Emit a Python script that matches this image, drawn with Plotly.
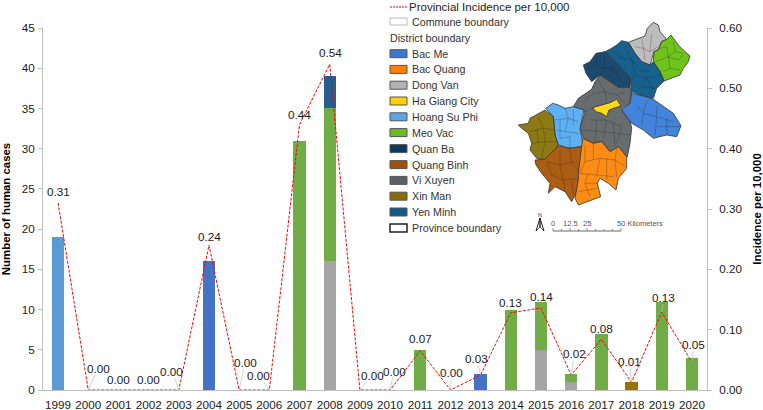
import plotly.graph_objects as go

W, H = 763, 410
years = [str(y) for y in range(1999, 2021)]
hoang_su_phi = [19,0,0,0,0,0,0,0,0,0,0,0,0,0,0,0,0,0,0,0,0,0]
bac_me =       [0,0,0,0,0,16,0,0,0,0,0,0,0,0,2,0,0,0,0,0,0,0]
dong_van =     [0,0,0,0,0,0,0,0,0,16,0,0,0,0,0,0,5,1,0,0,0,0]
meo_vac =      [0,0,0,0,0,0,0,0,31,19,0,0,5,0,0,10,6,1,7,0,11,4]
xin_man =      [0,0,0,0,0,0,0,0,0,0,0,0,0,0,0,0,0,0,0,1,0,0]
yen_minh =     [0,0,0,0,0,0,0,0,0,4,0,0,0,0,0,0,0,0,0,0,0,0]
incidence = [0.31,0,0,0,0,0.24,0,0,0.44,0.54,0,0,0.065,0,0.025,0.128,0.136,0.025,0.084,0.013,0.129,0.046]
incidence_labels = ["0.31","0.00","0.00","0.00","0.00","0.24","0.00","0.00","0.44","0.54","0.00","0.00",
                    "0.07","0.00","0.03","0.13","0.14","0.02","0.08","0.01","0.13","0.05"]
label_offsets = [(0,-11),(10,-22),(0,-11),(0,-11),(-7,-19),(0,-9),(6,-28),(-11,-15),(0,-10),(1,-12),(13,-15),(4,-19),
                 (0,-12),(1,-18),(-4,-16),(0,-10),(0,-11),(3,-21),(0,-11),(-2,-21),(2,-15),(2,-18)]
leader = [False,True,False,False,True,False,True,True,False,False,True,True,False,True,True,False,False,True,False,True,True,True]

legend_items = ["Bac Me","Bac Quang","Dong Van","Ha Giang City","Hoang Su Phi","Meo Vac","Quan Ba","Quang Binh","Vi Xuyen","Xin Man","Yen Minh"]
legend_colors = ["#3d78d0","#ff8000","#b2b2b2","#ffd200","#5aa5e8","#6cbf1a","#0f3a5f","#a84e00","#5a6166","#8a6d00","#0f5a8c"]
map_colors = ["#4283dc","#fc8c15","#bdbdbd","#ffd91a","#5db0f2","#6fc31a","#1b4a6e","#ac5d14","#676c6f","#8e7a14","#17618f"]

# map outlines (crop coordinates)
map_shapes = {
 "Dong Van": [(355,97),(385,85),(405,78),(412,55),(430,37),(445,45),(450,65),(470,88),(455,95),(445,120),(432,125),(420,165),(395,155),(375,130)],
 "Meo Vac": [(455,95),(470,88),(483,75),(495,90),(505,105),(520,120),(540,138),(535,155),(520,175),(510,195),(480,205),(462,213),(450,185),(430,155),(432,125),(445,120)],
 "Yen Minh": [(285,125),(300,118),(320,105),(335,92),(355,97),(375,130),(395,155),(420,165),(430,155),(450,185),(462,213),(440,235),(430,265),(400,258),(365,245),(360,205),(330,170),(305,145)],
 "Quan Ba": [(220,165),(240,155),(258,130),(285,125),(305,145),(330,170),(360,205),(360,232),(325,232),(300,215),(270,195),(245,215),(228,190)],
 "Vi Xuyen": [(270,195),(300,215),(325,232),(360,232),(365,245),(360,280),(335,295),(360,330),(365,355),(360,400),(352,440),(325,415),(300,425),(275,393),(250,400),(220,385),(210,355),(225,305),(190,290),(205,265),(245,238),(255,215)],
 "Ha Giang City": [(248,293),(275,285),(300,278),(320,268),(333,288),(310,295),(297,300),(290,320),(275,310),(258,305)],
 "Bac Me": [(365,250),(400,258),(430,268),(460,290),(490,310),(513,347),(500,380),(470,375),(430,385),(400,360),(365,340),(335,300),(360,280)],
 "Hoang Su Phi": [(107,295),(128,280),(145,285),(165,295),(190,290),(222,300),(210,355),(220,408),(180,415),(145,405),(135,375),(130,320)],
 "Xin Man": [(25,345),(55,340),(60,325),(105,300),(130,320),(135,375),(145,405),(110,450),(80,445),(60,420),(65,400),(55,370),(35,355)],
 "Quang Binh": [(75,450),(105,447),(145,408),(180,415),(218,410),(205,490),(210,510),(195,555),(185,575),(165,545),(135,530),(115,550),(120,520),(95,490),(78,465)],
 "Bac Quang": [(218,385),(250,400),(275,395),(300,425),(325,410),(350,440),(350,475),(325,505),(318,540),(295,520),(270,505),(262,520),(272,560),(245,570),(205,585),(195,565),(205,510),(205,490)],
}
commune_lines = [
 [(395,85),(400,115),(420,125),(445,110)],[(375,110),(400,115)],[(425,70),(420,125)],[(400,115),(405,150)],
 [(470,110),(475,140),(450,150),(435,155)],[(475,140),(505,150),(520,135)],[(475,140),(480,175),(460,185)],[(480,175),(510,180)],[(490,95),(495,125),(475,140)],[(450,115),(470,110)],[(495,125),(520,130)],
 [(320,120),(335,145),(365,150),(390,180),(420,185)],[(365,150),(375,195),(365,215)],[(375,195),(410,205),(430,240)],[(410,205),(450,195)],[(395,230),(410,205)],[(300,118),(335,145)],[(345,115),(365,150)],[(380,245),(395,230),(435,235)],
 [(258,165),(280,175),(310,175),(335,215)],[(280,175),(270,195)],[(258,130),(258,165),(235,175)],[(285,140),(280,175)],[(310,175),(295,205)],
 [(250,250),(285,245),(320,255),(345,245)],[(285,245),(290,275)],[(220,275),(250,250)],[(240,330),(290,330),(335,350)],[(290,330),(280,385)],[(335,350),(320,400)],[(320,255),(345,280)],[(225,305),(248,293)],[(215,360),(280,365),(360,375)],[(260,330),(255,395)],[(310,340),(315,410)],[(265,210),(285,245)],
 [(380,285),(400,310),(440,320),(490,335)],[(400,310),(395,345)],[(440,320),(435,375)],[(440,290),(440,320)],[(470,325),(470,375)],[(400,310),(410,270)],[(440,350),(510,350)],
 [(135,330),(175,325),(205,335)],[(165,295),(175,325),(165,365),(140,360)],[(165,365),(205,370)],[(180,380),(180,415)],[(150,330),(150,385)],[(190,300),(190,345)],[(150,385),(180,380)],
 [(60,365),(100,355),(135,360)],[(65,400),(105,395),(140,395)],[(100,355),(105,395),(95,445)],[(85,320),(100,355)],[(80,355),(85,400)],
 [(110,455),(150,465),(195,455)],[(150,465),(160,510),(205,505)],[(125,495),(160,510)],[(150,420),(150,465)],[(110,455),(125,495)],[(180,415),(185,460),(205,480)],[(160,510),(165,545)],[(185,510),(190,555)],
 [(225,405),(225,455),(270,445),(315,450)],[(225,455),(210,490),(260,495)],[(270,445),(260,495),(310,500)],[(225,520),(240,560)],[(205,545),(260,535)],[(320,415),(315,450),(345,470)],[(250,400),(250,450)],[(235,490),(225,520),(265,520)],[(290,445),(290,510)],[(315,450),(320,500)],
]
def map_px(p):
    return 510 + p[0] / 3, 10 + p[1] / 3

fig = go.Figure()
bar_series = [("Hoang Su Phi", hoang_su_phi, "#5B9BD5"), ("Bac Me", bac_me, "#4472C4"), ("Dong Van", dong_van, "#A5A5A5"),
              ("Meo Vac", meo_vac, "#70AD47"), ("Xin Man", xin_man, "#9E7000"), ("Yen Minh", yen_minh, "#255E91")]
for name, vals, col in bar_series:
    fig.add_trace(go.Bar(x=years, y=vals, name=name, marker=dict(color=col, line=dict(width=0)), width=0.41, xaxis="x", yaxis="y"))
fig.add_trace(go.Scatter(x=years, y=incidence, mode="lines", cliponaxis=False, line=dict(color="#FF0000", width=1, dash="3px,1.5px"),
                         name="Provincial Incidence per 10,000", xaxis="x", yaxis="y2"))

color_of = dict(zip(legend_items, map_colors))
for name, pts in map_shapes.items():
    xy = [map_px(p) for p in pts + pts[:1]]
    fig.add_trace(go.Scatter(x=[a for a, _ in xy], y=[b for _, b in xy], mode="lines", fill="toself", fillcolor=color_of[name],
                             line=dict(color="#333333", width=0.8), xaxis="x3", yaxis="y3", hoverinfo="skip"))
cx, cy = [], []
for seg_pts in commune_lines:
    for p in seg_pts:
        a, b = map_px(p); cx.append(a); cy.append(b)
    cx.append(None); cy.append(None)
fig.add_trace(go.Scatter(x=cx, y=cy, mode="lines", line=dict(color="rgba(30,30,30,0.45)", width=0.6), xaxis="x3", yaxis="y3", hoverinfo="skip"))

anns, shapes = [], []
font_lbl = dict(family="Liberation Sans, Arial, sans-serif", size=11.7, color="#1a1a1a")
for i, (v, t, (dx, dy), ld) in enumerate(zip(incidence, incidence_labels, label_offsets, leader)):
    if ld:
        anns.append(dict(x=i, y=v, xref="x", yref="y2", text=t, showarrow=True, arrowhead=0, arrowwidth=0.7, arrowcolor="#BFBFBF",
                         ax=dx, ay=dy, font=font_lbl, borderpad=0, standoff=0))
    else:
        anns.append(dict(x=i, y=v, xref="x", yref="y2", text=t, showarrow=False, xshift=dx, yshift=-dy, font=font_lbl))

def px_text(x, y, t, size=10.7, anchor="left", color="#333333"):
    anns.append(dict(x=x, y=y, xref="x3", yref="y3", text=t, showarrow=False, xanchor=anchor, yanchor="middle",
                     font=dict(family="Liberation Sans, Arial, sans-serif", size=size, color=color)))
def rect(x0, y0, x1, y1, fill, line="#555555", w=1):
    shapes.append(dict(type="rect", xref="x3", yref="y3", x0=x0, y0=y0, x1=x1, y1=y1, fillcolor=fill, line=dict(color=line, width=w)))
def seg(x0, y0, x1, y1, col="#333333", w=0.7, dash="solid"):
    shapes.append(dict(type="line", xref="x3", yref="y3", x0=x0, y0=y0, x1=x1, y1=y1, line=dict(color=col, width=w, dash=dash)))

seg(390, 7, 408, 7, "#FF0000", 1, "2px,1px")
px_text(407, 7, "Provincial Incidence per 10,000", 11.5, color="#222222")
rect(390, 18, 407, 25, "white", "#BBBBBB")
px_text(410, 21.7, "Commune boundary")
px_text(388, 37.7, "District boundary")
row_y = [53.7, 69.4, 85.2, 101, 116.8, 132.6, 148.6, 164.6, 180.4, 196.2, 212]
for name, col, y in zip(legend_items, legend_colors, row_y):
    rect(390, y - 4, 407, y + 4, col)
    px_text(410, y, name)
rect(390, 224, 407, 232, "white", "#222222", 1.5)
px_text(410, 228, "Province boundary")

# scale bar and north arrow
seg(553, 231, 621, 231, "#444444", 0.8)
for i in range(9):
    x = 553 + i * 68 / 8
    seg(x, 228 if i in (0, 2, 4, 8) else 229, x, 231, "#444444", 0.6)
px_text(553, 223, "0", 7.5, "center", "#555555")
px_text(570, 223, "12.5", 7.5, "center", "#555555")
px_text(587, 223, "25", 7.5, "center", "#555555")
px_text(640, 223, "50 Kilometers", 7.5, "center", "#555555")
px_text(540, 214.5, "N", 5.5, "center")
seg(540, 218, 536, 231, "#222222", 1)
seg(540, 218, 544, 231, "#222222", 1)
seg(540, 218, 540, 227, "#222222", 1.4)
seg(536, 231, 540, 227, "#222222", 0.8)
seg(544, 231, 540, 227, "#222222", 0.8)

axis_font = dict(family="Liberation Sans, Arial, sans-serif", size=11.7, color="#1a1a1a")
title_font = dict(family="Liberation Sans, Arial, sans-serif", size=11.4, color="#000000", weight="bold")
fig.update_layout(
    width=W, height=H, autosize=False, margin=dict(l=0, r=0, t=0, b=0, autoexpand=False), barmode="stack", showlegend=False,
    paper_bgcolor="white", plot_bgcolor="rgba(0,0,0,0)", annotations=anns, shapes=shapes,
    xaxis=dict(domain=[43/W, 707/W], type="category", categoryorder="array", categoryarray=years, range=[-0.5, 21.5], layer="below traces",
               showline=True, linecolor="#BFBFBF", linewidth=1, ticks="", tickfont=axis_font, anchor="y", showgrid=False, tickangle=0, ticklabelstandoff=4),
    yaxis=dict(domain=[(H-390)/H, (H-28)/H], range=[0, 45], dtick=5, showline=True, linecolor="#BFBFBF", linewidth=1, ticks="outside", ticklen=4,
               tickcolor="#BFBFBF", tickfont=axis_font, showgrid=False, zeroline=False, anchor="x", ticklabelstandoff=1,
               title=dict(text="Number of human cases", font=title_font, standoff=14)),
    yaxis2=dict(domain=[(H-390)/H, (H-28)/H], range=[0, 0.6], dtick=0.1, tickformat=".2f", overlaying="y", side="right", showline=True, linecolor="#BFBFBF",
                linewidth=1, ticks="outside", ticklen=4, tickcolor="#BFBFBF", tickfont=axis_font, showgrid=False, zeroline=False, anchor="x", ticklabelstandoff=5,
                title=dict(text="Incidence per 10,000", font=title_font, standoff=14)),
    xaxis3=dict(domain=[0, 1], range=[0, W], visible=False, anchor="y3", fixedrange=True),
    yaxis3=dict(domain=[0, 1], range=[H, 0], visible=False, anchor="x3", fixedrange=True),
)
fig.write_html("out.html", config={"displayModeBar": False}, post_script="document.body.style.margin='0';")
